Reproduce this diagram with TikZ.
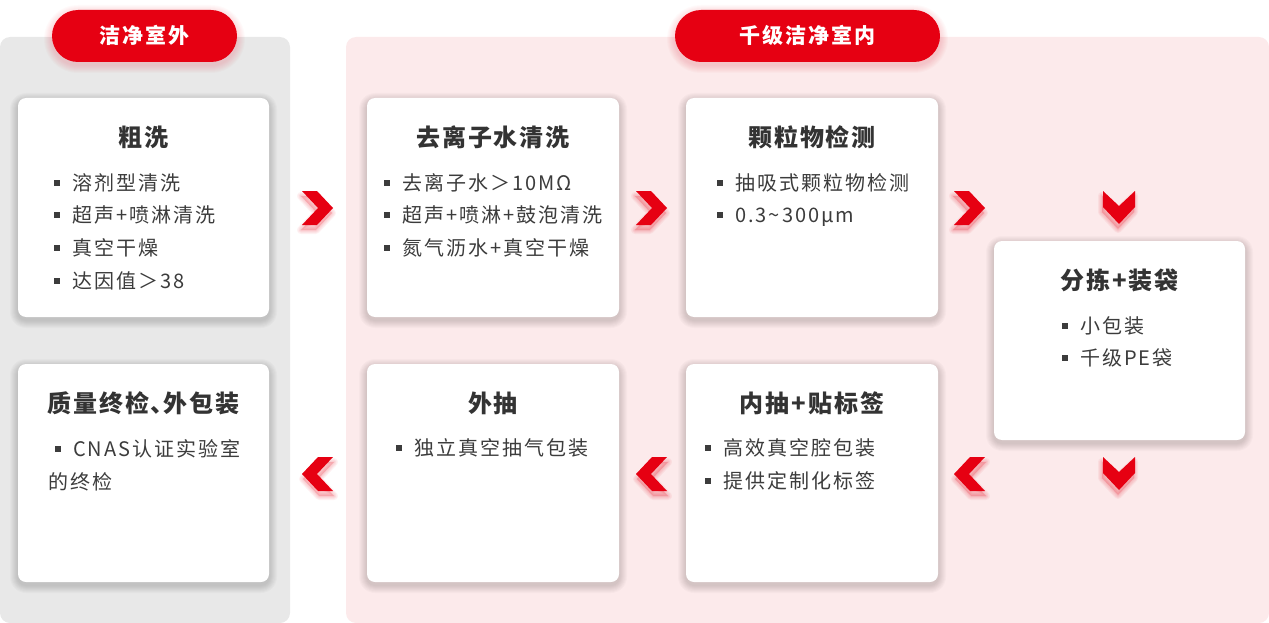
\documentclass[tikz,border=0pt]{standalone}
\usepackage{fontspec}
\setmainfont{Noto Sans CJK SC}
\newfontfamily\bodyfont{Noto Sans CJK SC}[LetterSpace=10]
\newfontfamily\titlefont{Noto Sans CJK SC}[LetterSpace=8]
\newfontfamily\pillfont{Noto Sans CJK SC}[LetterSpace=9]
\definecolor{cred}{HTML}{E60012}
\definecolor{cgray}{HTML}{E8E8E8}
\definecolor{cpink}{HTML}{FCEAEB}
\definecolor{ctxt}{HTML}{3C3C3C}
\definecolor{ctitle}{HTML}{333333}
\tikzset{
  card/.style={fill=white, rounded corners=8pt, draw=none, inner sep=0pt},
  pillbox/.style={fill=cred, rounded corners=26pt, draw=none, text=white, minimum height=52pt,
    font=\pillfont\bfseries\fontsize{21}{24}\selectfont, text height=18.5pt, text depth=2.5pt},
  ttl/.style={font=\titlefont\bfseries\fontsize{24}{28}\selectfont, text=ctitle, inner sep=0pt,
    text height=21.1pt, text depth=2.9pt},
  itm/.style={font=\bodyfont\fontsize{20}{24}\selectfont, text=ctxt, anchor=west, inner sep=0pt,
    text height=17.6pt, text depth=2.4pt},
  chev/.style={fill=cred, draw=none},
  chevglow/.style={fill=cred, opacity=0.05, draw=cred, line join=round}
}
\newcommand\glow[6]{%
  \foreach \s in {1,...,8}{%
    \pgfmathsetmacro\rr{#5+\s}%
    \fill[#6, opacity=0.02, rounded corners=\rr pt] ({#1-\s},{#2-\s+3}) rectangle ({#3+\s},{#4+\s+3});
  }}
\newcommand\itm[4]{%
  \fill[ctxt] ({#2-18},{#3-3}) rectangle ({#2-12.5},{#3+2.5});
  \node[itm] (#1) at (#2,#3) {#4};}
\newcommand\chevR[1]{%
  \begin{scope}[shift={#1}]
    \foreach \w in {2,4,6,8}{\draw[chevglow, line width=\w pt] (-1,5)--(14,5)--(30,22)--(14,39)--(-1,39)--(15,22)--cycle;}
    \fill[chev] (0,0)--(15,0)--(31,17)--(15,34)--(0,34)--(16,17)--cycle;
  \end{scope}}
\newcommand\chevL[1]{%
  \begin{scope}[shift={#1}]
    \foreach \w in {2,4,6,8}{\draw[chevglow, line width=\w pt] (32,5)--(17,5)--(1,22)--(17,39)--(32,39)--(16,22)--cycle;}
    \fill[chev] (31,0)--(16,0)--(0,17)--(16,34)--(31,34)--(15,17)--cycle;
  \end{scope}}
\newcommand\chevD[1]{%
  \begin{scope}[shift={#1}]
    \foreach \w in {2,4,6,8}{\draw[chevglow, line width=\w pt] (-1,5)--(15,20)--(31,5)--(31,21)--(15,38)--(-1,21)--cycle;}
    \fill[chev] (0,0)--(16,15)--(32,0)--(32,16)--(16,33)--(0,16)--cycle;
  \end{scope}}
\begin{document}
\begin{tikzpicture}[x=1pt,y=-1pt]
\useasboundingbox (0,0) rectangle (1269,623);
% panels
\fill[cgray, rounded corners=10pt] (0,37) rectangle (290,623);
\fill[cpink, rounded corners=10pt] (346,37) rectangle (1269,623);
% pills
\glow{52}{10}{237}{62}{26}{cred}
\glow{675}{10}{940}{62}{26}{cred}
\node[pillbox, minimum width=185pt] (p1) at (144.5,36) {洁净室外};
\node[pillbox, minimum width=265pt] (p2) at (807.5,36) {千级洁净室内};
% card shadows
\glow{18}{98}{269}{317}{8}{black}
\glow{367}{98}{619}{317}{8}{black}
\glow{686}{98}{938}{317}{8}{black}
\glow{994}{241}{1245}{440}{8}{black}
\glow{18}{364}{269}{582}{8}{black}
\glow{367}{364}{619}{582}{8}{black}
\glow{686}{364}{938}{582}{8}{black}
% cards
\node[card, minimum width=251pt, minimum height=219pt] (c1) at (143.5,207.5) {};
\node[card, minimum width=252pt, minimum height=219pt] (c2) at (493,207.5) {};
\node[card, minimum width=252pt, minimum height=219pt] (c3) at (812,207.5) {};
\node[card, minimum width=251pt, minimum height=199pt] (c4) at (1119.5,340.5) {};
\node[card, minimum width=251pt, minimum height=218pt] (c5) at (143.5,473) {};
\node[card, minimum width=252pt, minimum height=218pt] (c6) at (493,473) {};
\node[card, minimum width=252pt, minimum height=218pt] (c7) at (812,473) {};
% titles
\node[ttl] (t1) at (143.5,137) {粗洗};
\node[ttl] (t2) at (493,137) {去离子水清洗};
\node[ttl] (t3) at (812,137) {颗粒物检测};
\node[ttl] (t4) at (1119.5,280) {分拣+装袋};
\node[ttl] (t5) at (143.5,403) {质量终检、\kern-11pt外包装};
\node[ttl] (t6) at (493,403) {外抽};
\node[ttl] (t7) at (812,403) {内抽+贴标签};
% items
\itm{i11}{72}{183}{溶剂型清洗}
\itm{i12}{72}{215}{超声+喷淋清洗}
\itm{i13}{72}{248}{真空干燥}
\itm{i14}{72}{281}{达因值＞38}
\itm{i21}{402}{183}{去离子水＞10MΩ}
\itm{i22}{402}{215}{超声+喷淋+鼓泡清洗}
\itm{i23}{402}{248}{氮气沥水+真空干燥}
\itm{i31}{735}{183}{抽吸式颗粒物检测}
\itm{i32}{735}{215}{0.3\char"7E 300μm}
\itm{i41}{1080}{326}{小包装}
\itm{i42}{1080}{358}{千级PE袋}
\itm{i51}{73}{449}{CNAS认证实验室}
\node[itm] (i52) at (48,482) {的终检};
\itm{i61}{414}{448}{独立真空抽气包装}
\itm{i71}{723}{448}{高效真空腔包装}
\itm{i72}{723}{481}{提供定制化标签}
% chevrons
\chevR{(302,191)}
\chevR{(636,191)}
\chevR{(954,191)}
\chevD{(1103,191)}
\chevD{(1103,457)}
\chevL{(302,457)}
\chevL{(636,457)}
\chevL{(954,457)}
\end{tikzpicture}
\end{document}
